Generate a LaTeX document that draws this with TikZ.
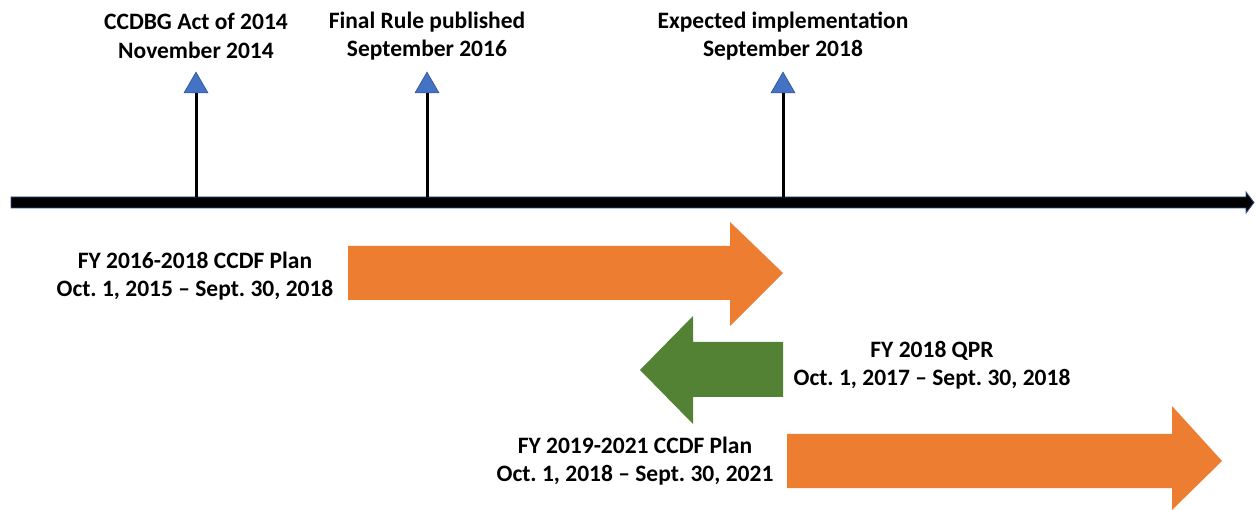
\documentclass[tikz,border=0pt]{standalone}
\usepackage{fontspec}
\setmainfont{Carlito}
\usepackage{xcolor}
\usetikzlibrary{shapes.geometric}
\frenchspacing

\definecolor{planorange}{HTML}{ED7D31}
\definecolor{qprgreen}{HTML}{548235}
\definecolor{markblue}{HTML}{4472C4}
\definecolor{markline}{HTML}{2F528F}

\begin{document}
\begin{tikzpicture}[
		x=1pt, y=-1pt,
		every node/.style={inner sep=0pt, outer sep=0pt},
		txt/.style={font=\bfseries\fontsize{23.5}{28.5}\selectfont, align=center},
		marker/.style={regular polygon, regular polygon sides=3, minimum size=27.7pt,
				fill=markblue, draw=markline, line width=0.6pt}
	]
	\useasboundingbox (0,0) rectangle (1256,510);

	% time axis with its arrow head
	\filldraw[draw=markline, fill=black, line width=0.8pt]
	(11,197) -- (1246,197) -- (1246,192) -- (1254,202.5)
	-- (1246,213) -- (1246,208) -- (11,208) -- cycle;

	% events on the axis
	\foreach \i/\x/\top/\bot in {1/196/CCDBG Act of 2014/November 2014,
			2/427/Final Rule published/September 2016,
			3/783/Expected implementation/September 2018} {
			\coordinate (base\i) at (\x,197);
			\node[marker] (tri\i) at (\x,86) {};
			\draw[line width=3pt] (base\i) -- (tri\i.south);
			\node[txt] (event\i) at (\x,36) {\top\\\bot};
		}

	% plan periods
	\fill[planorange] (348,246) -- (730,246) -- (730,222) -- (783,273)
	-- (730,326) -- (730,300) -- (348,300) -- cycle;
	\fill[qprgreen] (783,342) -- (693,342) -- (693,316) -- (640,370)
	-- (693,424) -- (693,397) -- (783,397) -- cycle;
	\fill[planorange] (787,434) -- (1172,434) -- (1172,406) -- (1222,461)
	-- (1172,510) -- (1172,488) -- (787,488) -- cycle;

	\node[txt] (plan1) at (195,276) {FY 2016-2018 CCDF Plan\\Oct. 1, 2015 -- Sept. 30, 2018};
	\node[txt] (qpr) at (932,365) {FY 2018 QPR\\Oct. 1, 2017 -- Sept. 30, 2018};
	\node[txt] (plan2) at (635,461) {FY 2019-2021 CCDF Plan\\Oct. 1, 2018 -- Sept. 30, 2021};
\end{tikzpicture}
\end{document}
